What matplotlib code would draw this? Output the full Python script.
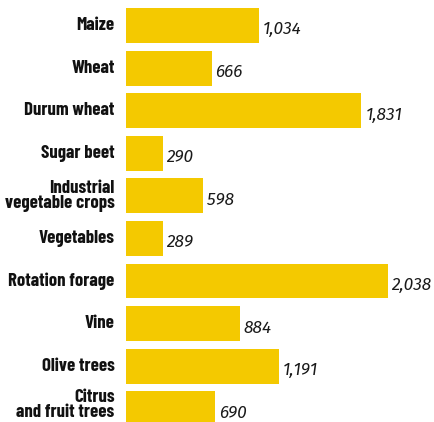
import matplotlib
matplotlib.use('Agg')
import matplotlib.pyplot as plt

categories = ['Maize', 'Wheat', 'Durum wheat', 'Sugar beet',
              'Industrial\nvegetable crops', 'Vegetables', 'Rotation forage',
              'Vine', 'Olive trees', 'Citrus\nand fruit trees']
values = [1034, 666, 1831, 290, 598, 289, 2038, 884, 1191, 690]

yellow = '#f4c900'
label_font = ['Barlow Condensed', 'DejaVu Sans']
value_font = ['Fira Sans', 'DejaVu Sans']

fig = plt.figure(figsize=(4.35, 4.22), dpi=100)
ax = fig.add_axes([126/435, 0, 309/435, 1])

ypos = list(range(len(categories)))
ax.barh(ypos, values, height=0.82, color=yellow)

ax.set_xlim(0, 309/0.1286)
ax.set_ylim(9.31, -0.599)
ax.axis('off')

for y, v, c in zip(ypos, values, categories):
    ax.text(v + 30, y + 0.1, f'{v:,}', ha='left', va='center', fontsize=12.5,
            style='italic', color='#1a1a1a', family=value_font)
    # last label sits a little higher so it fits the bottom edge
    ly = y - 0.1 if y == len(categories) - 1 else y
    ax.text(-88, ly, c, ha='right', va='center', fontsize=13.5, fontweight='bold',
            color='#111111', linespacing=0.85, family=label_font)

fig.savefig('out.png', dpi=100)
